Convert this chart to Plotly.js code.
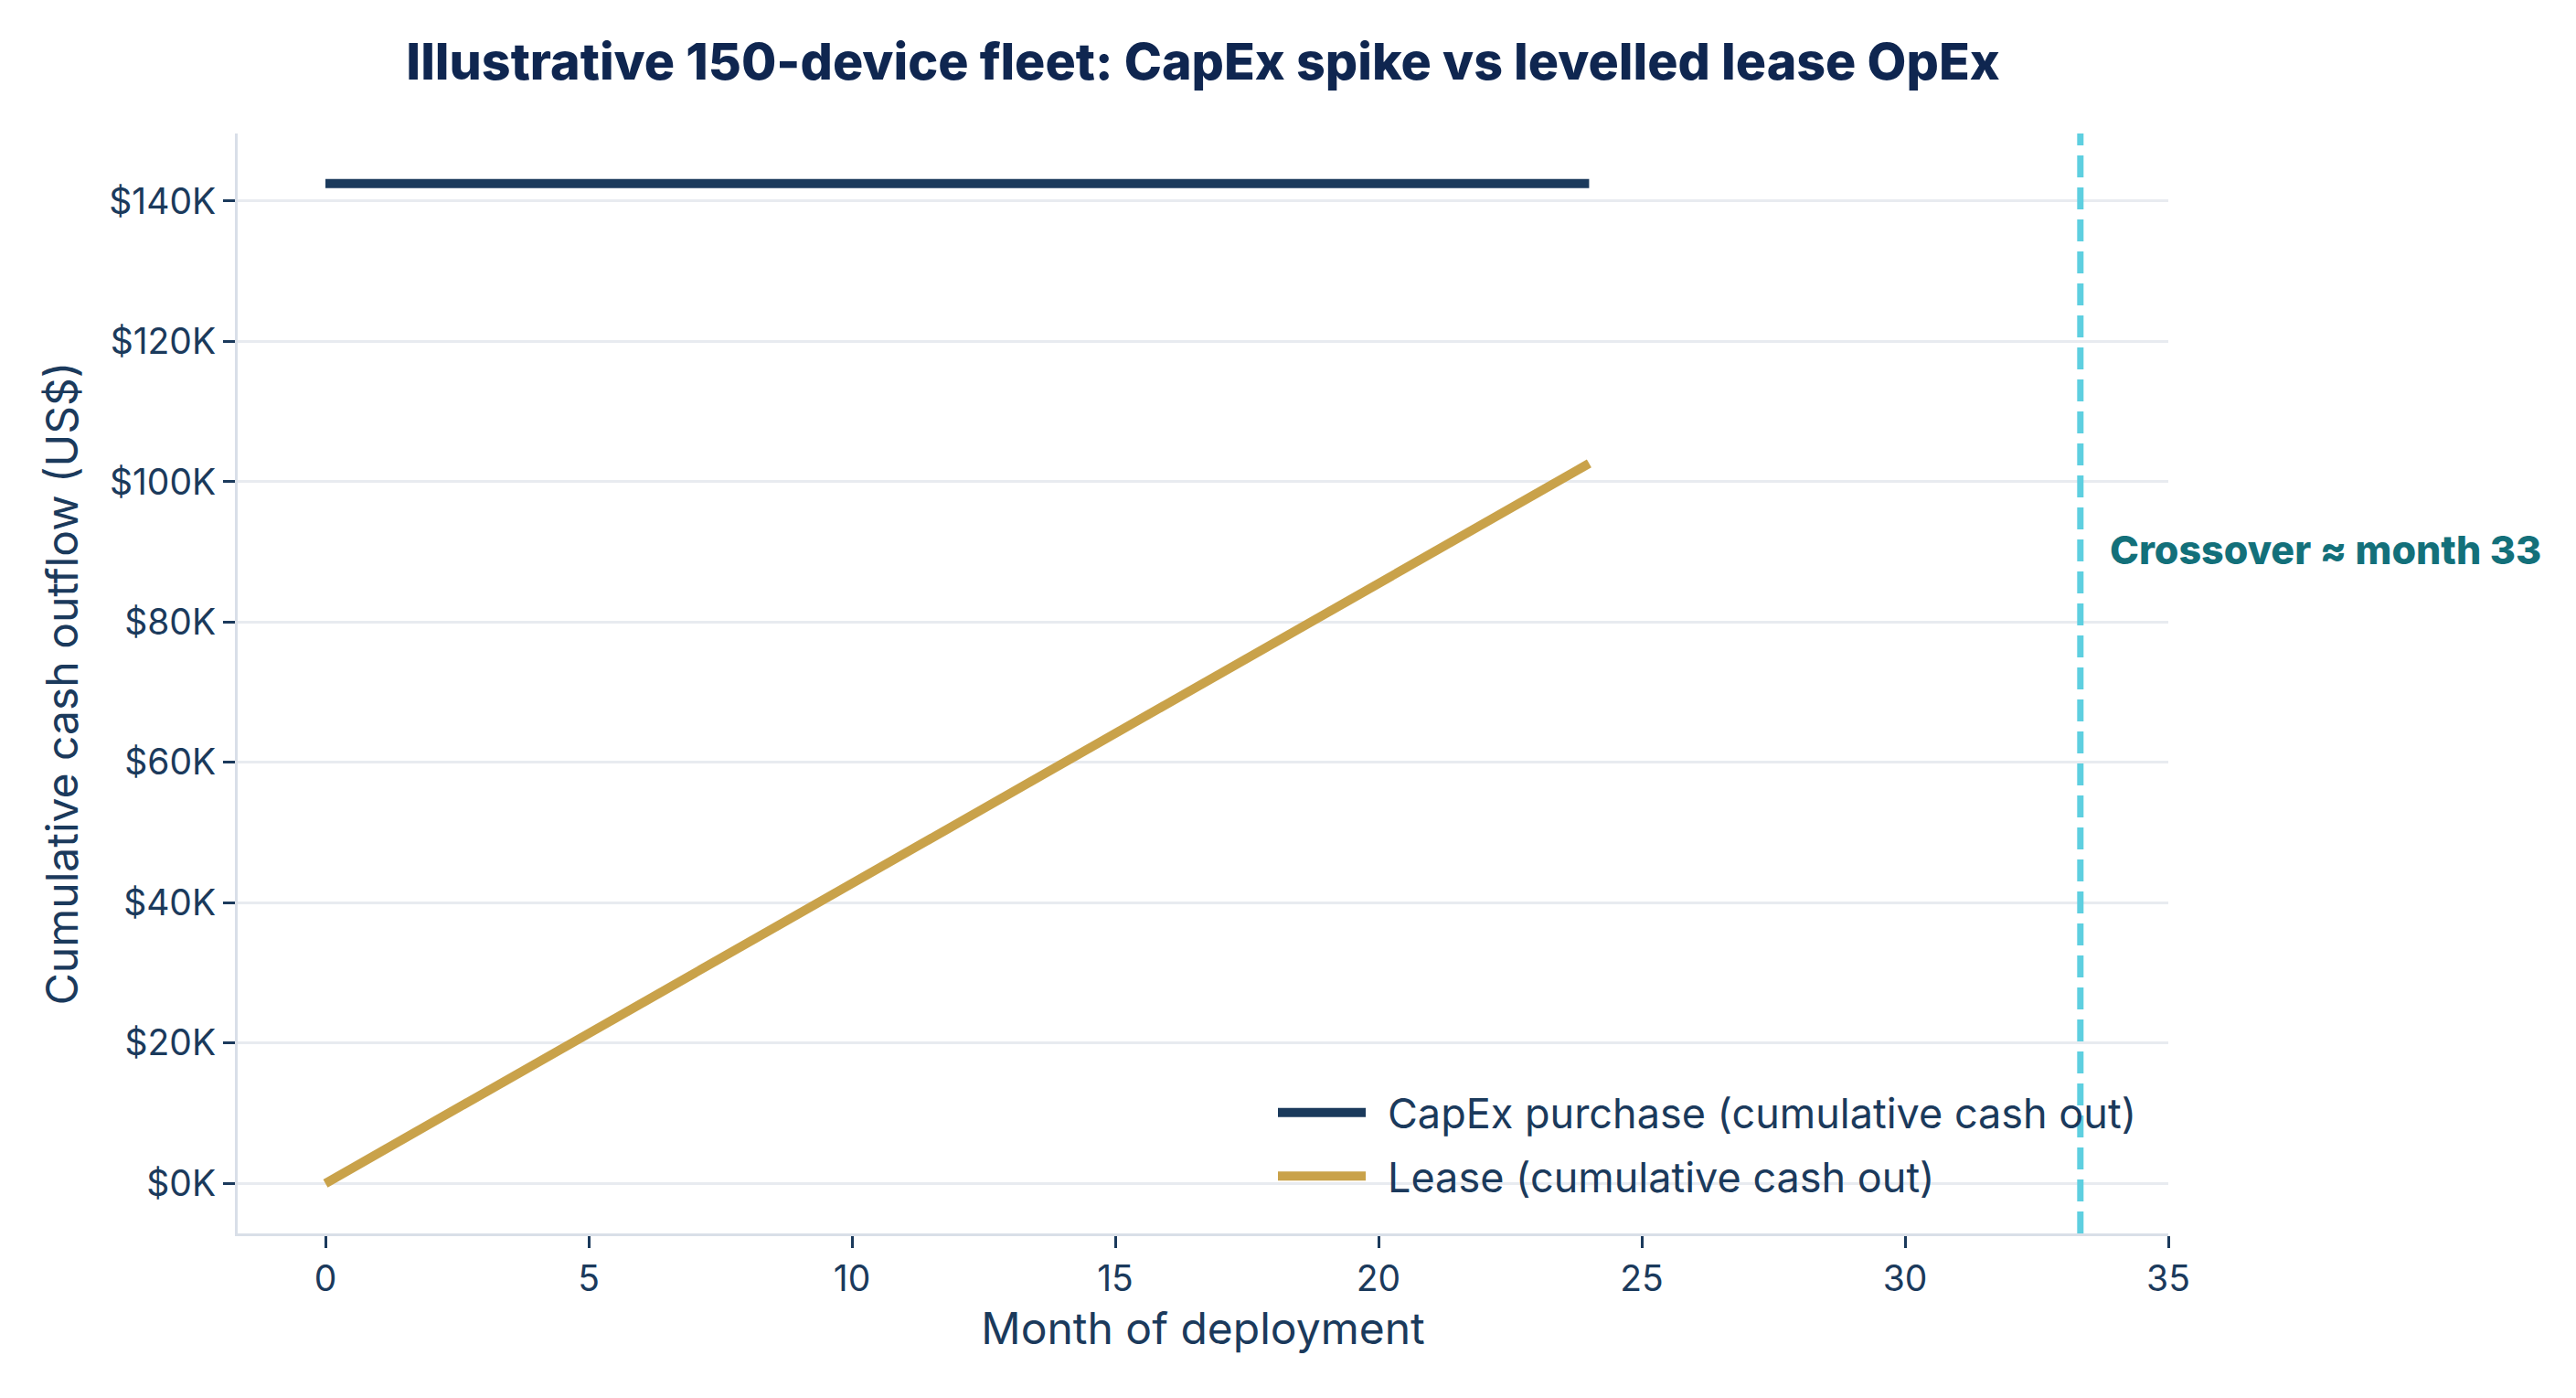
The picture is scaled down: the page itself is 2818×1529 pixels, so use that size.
<!DOCTYPE html>
<html>
<head>
<meta charset="utf-8">
<script src="https://cdn.plot.ly/plotly-3.0.1.min.js"></script>
<style>
  html, body { margin: 0; padding: 0; background: #ffffff; }
  #chart { width: 2818px; height: 1529px; }
</style>
</head>
<body>
<div id="chart"></div>
<script>
// ---- data ----
const months = [0, 1, 2, 3, 4, 5, 6, 7, 8, 9, 10, 11, 12, 13, 14, 15, 16, 17, 18, 19, 20, 21, 22, 23, 24];
const capexCumulative = [142500, 142500, 142500, 142500, 142500, 142500, 142500, 142500, 142500, 142500, 142500, 142500, 142500,
                         142500, 142500, 142500, 142500, 142500, 142500, 142500, 142500, 142500, 142500, 142500, 142500];
const leaseCumulative = [0, 4275, 8550, 12825, 17100, 21375, 25650, 29925, 34200, 38475, 42750, 47025, 51300,
                         55575, 59850, 64125, 68400, 72675, 76950, 81225, 85500, 89775, 94050, 98325, 102600];
const crossoverMonth = 33.33;
const crossoverLabelY = 90300;

const yTickVals = [0, 20000, 40000, 60000, 80000, 100000, 120000, 140000];
const yTickText = ["$0K", "$20K", "$40K", "$60K", "$80K", "$100K", "$120K", "$140K"];
const xTickVals = [0, 5, 10, 15, 20, 25, 30, 35];

const seriesNames = ["CapEx purchase (cumulative cash out)", "Lease (cumulative cash out)"];
const titleText = "Illustrative 150-device fleet: CapEx spike vs levelled lease OpEx";
const xTitle = "Month of deployment";
const yTitle = "Cumulative cash outflow (US$)";
const annotationText = "Crossover \u2248 month 33";

// ---- styling ----
const FONT = "Inter, 'Noto Sans', 'DejaVu Sans', sans-serif";
const NAVY = "#1b3a5c";
const GOLD = "#c9a24a";
const TEXT = "#1b3a5c";

const traces = [
  {
    x: months, y: capexCumulative, name: seriesNames[0], type: "scatter", mode: "lines",
    line: { color: NAVY, width: 10 }, legendgroup: "a"
  },
  {
    x: months, y: leaseCumulative, name: seriesNames[1], type: "scatter", mode: "lines",
    line: { color: GOLD, width: 10 }, legendgroup: "b"
  }
];

const layout = {
  width: 2818,
  height: 1529,
  margin: { l: 260, r: 446, t: 146, b: 180, pad: 0 },
  paper_bgcolor: "#ffffff",
  plot_bgcolor: "#ffffff",
  font: { family: FONT, color: TEXT, size: 40 },
  title: {
    text: titleText,
    x: 0.5, xref: "paper", xanchor: "center",
    y: 1 - 68 / 1529, yref: "container", yanchor: "middle",
    font: { family: FONT, size: 55.5, color: "#0f2650", weight: 800 }
  },
  xaxis: {
    range: [-1.667, 35],
    tickvals: xTickVals,
    ticks: "outside", ticklen: 13, tickwidth: 3, tickcolor: NAVY,
    showgrid: false, zeroline: false,
    showline: true, linecolor: "#d9dfe8", linewidth: 3,
    tickfont: { family: FONT, size: 39, color: TEXT },
    title: { text: xTitle, font: { family: FONT, size: 48, color: TEXT }, standoff: 17 }
  },
  yaxis: {
    range: [-7125, 149625],
    tickvals: yTickVals, ticktext: yTickText,
    ticks: "outside", ticklen: 13, tickwidth: 3, tickcolor: NAVY,
    showgrid: true, gridcolor: "#e8ebf0", gridwidth: 3,
    zeroline: false,
    showline: true, linecolor: "#d9dfe8", linewidth: 3,
    tickfont: { family: FONT, size: 39, color: TEXT },
    title: { text: yTitle, font: { family: FONT, size: 48, color: TEXT }, standoff: 19 }
  },
  legend: {
    x: (1393 - 260) / 2112, xanchor: "left",
    y: (1349 - 1181) / 1203, yanchor: "top",
    bgcolor: "rgba(0,0,0,0)",
    font: { family: FONT, size: 45, color: TEXT },
    itemwidth: 115,
    traceorder: "grouped",
    tracegroupgap: 8
  },
  shapes: [
    {
      type: "line", xref: "x", yref: "paper",
      x0: crossoverMonth, x1: crossoverMonth, y0: 0, y1: 1,
      line: { color: "#5ecfe0", width: 7, dash: "24px,11px" },
      layer: "above"
    }
  ],
  annotations: [
    {
      xref: "x", yref: "y", x: crossoverMonth, y: crossoverLabelY,
      text: annotationText, showarrow: false,
      xanchor: "left", yanchor: "middle", xshift: 30,
      font: { family: FONT, size: 43, color: "#13707a", weight: 800 }
    }
  ]
};

Plotly.newPlot("chart", traces, layout, { staticPlot: true, displayModeBar: false }).then(function () {
  document.querySelectorAll("#chart .legendlines path").forEach(function (p) {
    p.setAttribute("d", "M5,0h96");
  });
});
</script>
</body>
</html>
